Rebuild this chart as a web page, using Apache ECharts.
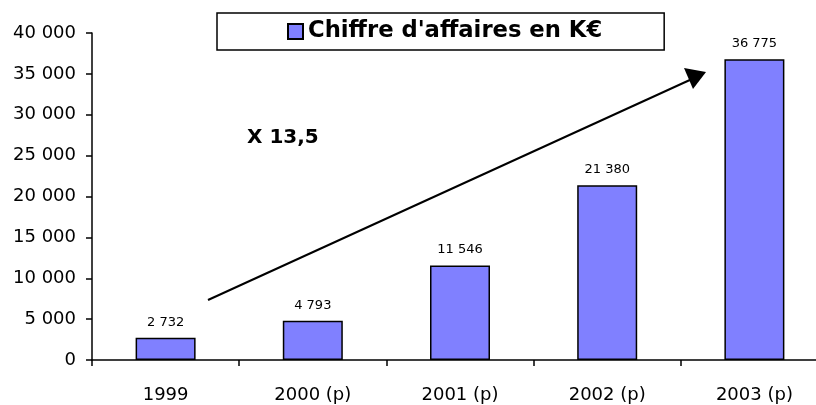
<!DOCTYPE html>
<html>
<head>
<meta charset="utf-8">
<script src="https://cdn.jsdelivr.net/npm/echarts@6/dist/echarts.min.js"></script>
<style>
html,body{margin:0;padding:0;background:#fff;}
#c{width:816px;height:405px;}
</style>
</head>
<body>
<div id="c"></div>
<script>
var categories = ['1999', '2000 (p)', '2001 (p)', '2002 (p)', '2003 (p)'];
var values = [2732, 4793, 11546, 21380, 36775];
var seriesName = "Chiffre d'affaires en K\u20AC";
var annotation = 'X 13,5';
var yTicks = {min: 0, max: 40000, interval: 5000};

function fmt(v) {
  return String(v).replace(/\B(?=(\d{3})+(?!\d))/g, ' ');
}

var chart = echarts.init(document.getElementById('c'), null, {renderer: 'canvas'});
var FONT = 'DejaVu Sans';
chart.setOption({
  animation: false,
  backgroundColor: '#ffffff',
  textStyle: {fontFamily: FONT},
  grid: {left: 92, width: 736, top: 33, bottom: 45, containLabel: false, outerBoundsMode: 'none'},
  legend: {
    data: [seriesName],
    left: 217, top: 13,
    padding: [7, 62, 7, 70],
    borderColor: '#000', borderWidth: 1.5,
    itemWidth: 15, itemHeight: 15, itemGap: 5,
    icon: 'rect',
    selectedMode: false,
    textStyle: {fontFamily: FONT, fontSize: 22.7, fontWeight: 'bold', color: '#000', lineHeight: 22}
  },
  xAxis: {
    type: 'category',
    data: categories,
    boundaryGap: true,
    axisLine: {lineStyle: {color: '#000', width: 1.5}},
    axisTick: {show: true, inside: false, length: 6, alignWithLabel: false, lineStyle: {color: '#000', width: 1.5}},
    axisLabel: {fontFamily: FONT, fontSize: 18, color: '#000', margin: 26},
    splitLine: {show: false}
  },
  yAxis: {
    type: 'value',
    min: yTicks.min, max: yTicks.max, interval: yTicks.interval,
    axisLine: {show: true, lineStyle: {color: '#000', width: 1.5}},
    axisTick: {show: true, inside: false, length: 6, lineStyle: {color: '#000', width: 1.5}},
    axisLabel: {fontFamily: FONT, fontSize: 18, color: '#000', margin: 16, formatter: fmt},
    splitLine: {show: false}
  },
  series: [{
    name: seriesName,
    type: 'bar',
    data: values,
    barWidth: 60,
    itemStyle: {color: '#8080FF', borderColor: '#000', borderWidth: 1.5},
    label: {show: true, position: 'top', distance: 9, fontFamily: FONT, fontSize: 13, color: '#000', formatter: function (p) { return fmt(p.value); }}
  }],
  graphic: [
    {type: 'line', shape: {x1: 208, y1: 300, x2: 692, y2: 79}, style: {stroke: '#000', lineWidth: 2}},
    {type: 'polygon', shape: {points: [[706, 72], [684, 68], [693, 89]]}, style: {fill: '#000'}},
    {type: 'text', left: 247, top: 128, style: {text: annotation, font: 'bold 20px "DejaVu Sans"', fill: '#000'}}
  ]
});
</script>
</body>
</html>
